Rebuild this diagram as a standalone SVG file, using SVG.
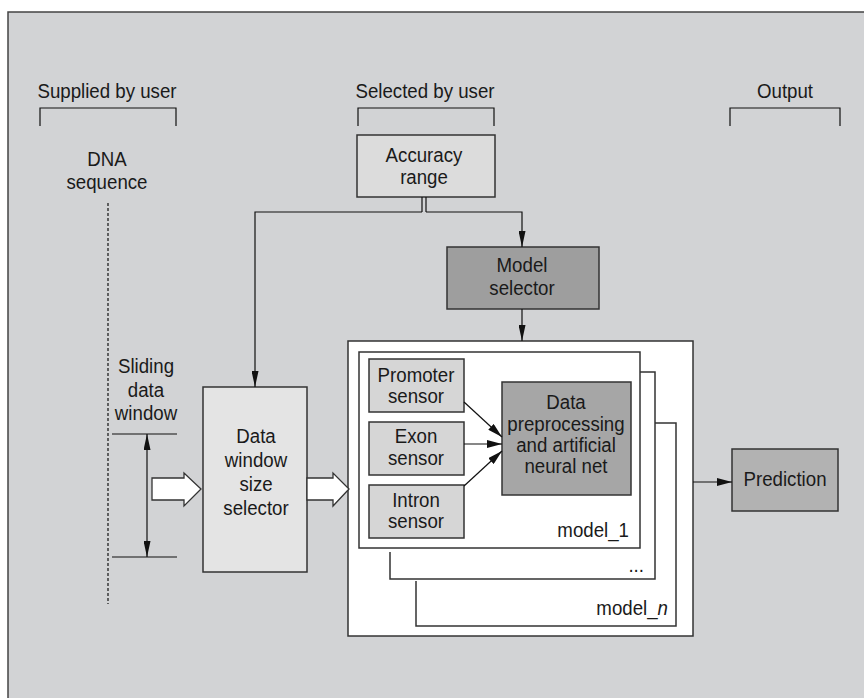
<svg xmlns="http://www.w3.org/2000/svg" width="864" height="698" viewBox="0 0 864 698">
<defs>
<marker id="ah" viewBox="0 0 16 7" refX="16" refY="3.5" markerWidth="16" markerHeight="7" markerUnits="userSpaceOnUse" orient="auto-start-reverse">
<path d="M0,0 L16,3.5 L0,7 z" fill="#111"/>
</marker>
<marker id="ahs" viewBox="0 0 15 8" refX="15" refY="4" markerWidth="15" markerHeight="8" markerUnits="userSpaceOnUse" orient="auto">
<path d="M0,0 L15,4 L0,8 z" fill="#111"/>
</marker>
</defs>
<style>
text{font-family:"Liberation Sans",Arial,sans-serif;font-size:21px;fill:#1a1a1a;text-anchor:middle}
.r{text-anchor:end}
.box{stroke:#333;stroke-width:1.5}
.ln{stroke:#111;stroke-width:1.2;fill:none}
.fr{stroke:#333;stroke-width:1.5;fill:none}
</style>
<rect x="8" y="12" width="870" height="700" fill="#d2d3d5" stroke="#444" stroke-width="1.5"/>

<g id="labels">
<text transform="matrix(0.89,0,0,1,107,0)" x="0" y="98">Supplied by user</text>
<text transform="matrix(0.89,0,0,1,425,0)" x="0" y="98">Selected by user</text>
<text transform="matrix(0.89,0,0,1,785,0)" x="0" y="98">Output</text>
<path class="ln" d="M40,126 V108 H176 V126"/>
<path class="ln" d="M358,126 V108 H494 V126"/>
<path class="ln" d="M730,126 V108 H840 V126"/>
</g>

<g id="dna">
<text transform="matrix(0.89,0,0,1,107,0)" x="0" y="166">DNA</text>
<text transform="matrix(0.89,0,0,1,107,0)" x="0" y="189">sequence</text>
<line x1="108" y1="203" x2="108" y2="604" stroke="#111" stroke-width="1.2" stroke-dasharray="3,2"/>
</g>

<g id="sliding-window">
<text transform="matrix(0.89,0,0,1,146,0)" x="0" y="373">Sliding</text>
<text transform="matrix(0.89,0,0,1,146,0)" x="0" y="397">data</text>
<text transform="matrix(0.89,0,0,1,146,0)" x="0" y="420">window</text>
<line class="ln" x1="112" y1="434" x2="177" y2="434"/>
<line class="ln" x1="112" y1="557" x2="177" y2="557"/>
</g>

<g id="accuracy">
<rect class="box" x="357" y="135" width="138" height="62" fill="#dcdcdc"/>
<text transform="matrix(0.89,0,0,1,424,0)" x="0" y="162">Accuracy</text>
<text transform="matrix(0.89,0,0,1,424,0)" x="0" y="184">range</text>
</g>

<g id="model-selector">
<rect class="box" x="447" y="247" width="152" height="62" fill="#9e9e9e"/>
<text transform="matrix(0.89,0,0,1,522,0)" x="0" y="272">Model</text>
<text transform="matrix(0.89,0,0,1,522,0)" x="0" y="295">selector</text>
</g>

<g id="data-window">
<rect class="box" x="203" y="387" width="104" height="185" fill="#e4e4e4"/>
<text transform="matrix(0.89,0,0,1,256,0)" x="0" y="443">Data</text>
<text transform="matrix(0.89,0,0,1,256,0)" x="0" y="467">window</text>
<text transform="matrix(0.89,0,0,1,256,0)" x="0" y="491">size</text>
<text transform="matrix(0.89,0,0,1,256,0)" x="0" y="515">selector</text>
</g>

<g id="models">
<rect class="box" x="348" y="341" width="345" height="295" fill="#ffffff"/>
<path class="fr" d="M416,581 V626 H676 V423 H655"/>
<text class="r" transform="matrix(0.89,0,0,1,668,0)" x="0" y="615">model_<tspan font-style="italic">n</tspan></text>
<path class="fr" d="M390,552 V579 H655 V372 H640"/>
<text class="r" transform="matrix(0.89,0,0,1,644,0)" x="0" y="572">...</text>
<rect class="box" x="359" y="352" width="281" height="196" fill="#ffffff"/>
<text class="r" transform="matrix(0.89,0,0,1,629,0)" x="0" y="537">model_1</text>
</g>

<g id="promoter">
<rect class="box" x="369" y="359" width="95" height="53" fill="#d6d6d6"/>
<text transform="matrix(0.89,0,0,1,416,0)" x="0" y="382">Promoter</text>
<text transform="matrix(0.89,0,0,1,416,0)" x="0" y="403">sensor</text>
</g>
<g id="exon">
<rect class="box" x="369" y="422" width="95" height="53" fill="#d6d6d6"/>
<text transform="matrix(0.89,0,0,1,416,0)" x="0" y="443">Exon</text>
<text transform="matrix(0.89,0,0,1,416,0)" x="0" y="465">sensor</text>
</g>
<g id="intron">
<rect class="box" x="369" y="485" width="95" height="53" fill="#d6d6d6"/>
<text transform="matrix(0.89,0,0,1,416,0)" x="0" y="507">Intron</text>
<text transform="matrix(0.89,0,0,1,416,0)" x="0" y="528">sensor</text>
</g>

<g id="ann">
<rect class="box" x="502" y="382" width="129" height="113" fill="#a6a6a6"/>
<text transform="matrix(0.89,0,0,1,566,0)" x="0" y="409">Data</text>
<text transform="matrix(0.89,0,0,1,566,0)" x="0" y="431">preprocessing</text>
<text transform="matrix(0.89,0,0,1,566,0)" x="0" y="452">and artificial</text>
<text transform="matrix(0.89,0,0,1,566,0)" x="0" y="473">neural net</text>
</g>

<g id="prediction">
<rect class="box" x="732" y="449" width="106" height="62" fill="#b2b2b2"/>
<text transform="matrix(0.89,0,0,1,785,0)" x="0" y="486">Prediction</text>
</g>

<g id="connectors">
<line class="ln" x1="422" y1="197" x2="422" y2="212"/>
<line class="ln" x1="426" y1="197" x2="426" y2="212"/>
<path class="ln" d="M422,212 H255 V387" marker-end="url(#ah)"/>
<path class="ln" d="M426,212 H522 V247" marker-end="url(#ah)"/>
<line class="ln" x1="522" y1="309" x2="522" y2="341" marker-end="url(#ah)"/>
<line class="ln" x1="147" y1="434" x2="147" y2="557" marker-start="url(#ah)" marker-end="url(#ah)"/>
<line class="ln" x1="464" y1="402" x2="502" y2="437" marker-end="url(#ahs)"/>
<line class="ln" x1="464" y1="444" x2="502" y2="444" marker-end="url(#ahs)"/>
<line class="ln" x1="464" y1="486" x2="502" y2="451" marker-end="url(#ahs)"/>
<line class="ln" x1="693" y1="482" x2="732" y2="482" marker-end="url(#ahs)"/>
<polygon points="152,478 184,478 184,473 201,489 184,506 184,500 152,500" fill="#fff" stroke="#333" stroke-width="1.3"/>
<polygon points="307,478 333,478 333,473 349,489 333,506 333,500 307,500" fill="#fff" stroke="#333" stroke-width="1.3"/>
</g>
</svg>
